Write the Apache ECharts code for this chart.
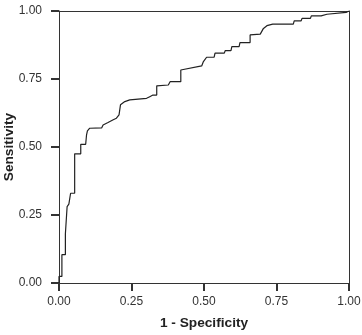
<!DOCTYPE html>
<html lang="en">
<head>
    <meta charset="UTF-8">
    <title>ROC</title>
    <script src="https://cdn.jsdelivr.net/npm/echarts@6/dist/echarts.min.js"></script>
    <style>
        body { margin: 0; background: #fff; }
        #main { width: 362px; height: 335px; }
    </style>
</head>
<body>
<div id="main"></div>
<script>
    // ROC curve vertices
    var fpr = [0, 0, 0.010, 0.010, 0.022, 0.022, 0.028, 0.028, 0.034, 0.040, 0.040, 0.054, 0.054, 0.075, 0.075, 0.092,
        0.095, 0.098, 0.106, 0.147, 0.152, 0.169, 0.187, 0.198, 0.207, 0.212, 0.212, 0.227, 0.244, 0.302, 0.313,
        0.324, 0.337, 0.337, 0.377, 0.383, 0.420, 0.420, 0.492, 0.498, 0.509, 0.535, 0.538, 0.570, 0.573, 0.593,
        0.596, 0.621, 0.624, 0.659, 0.659, 0.694, 0.699, 0.705, 0.717, 0.737, 0.808, 0.811, 0.835, 0.838, 0.867,
        0.870, 0.904, 0.907, 0.924, 0.926, 0.990, 0.993, 1];
    var tpr = [0, 0.024, 0.024, 0.104, 0.104, 0.180, 0.180, 0.281, 0.290, 0.290, 0.330, 0.330, 0.475, 0.475, 0.510, 0.510,
        0.545, 0.559, 0.569, 0.570, 0.581, 0.590, 0.600, 0.606, 0.618, 0.618, 0.655, 0.667, 0.673, 0.679, 0.685,
        0.691, 0.691, 0.725, 0.728, 0.740, 0.740, 0.783, 0.798, 0.814, 0.830, 0.830, 0.845, 0.845, 0.854, 0.854,
        0.869, 0.869, 0.884, 0.884, 0.912, 0.915, 0.920, 0.936, 0.946, 0.952, 0.952, 0.964, 0.964, 0.973, 0.973,
        0.982, 0.982, 0.988, 0.988, 0.995, 0.995, 1.0, 1];
    var ticks = [0, 0.25, 0.5, 0.75, 1];

    var points = [];
    for (var i = 0; i < fpr.length; i++) {
        points.push([fpr[i], tpr[i]]);
    }

    // axis carrying labels, ticks and title
    function makeAxis(name, gap, labelMargin) {
        return {
            type: 'value',
            min: ticks[0],
            max: ticks[ticks.length - 1],
            interval: ticks[1] - ticks[0],
            name: name,
            nameLocation: 'middle',
            nameGap: gap,
            nameMoveOverlap: false,
            nameTextStyle: { color: '#222', fontSize: 13.7, fontWeight: 'bold', fontFamily: 'Liberation Sans' },
            axisLine: { show: true, lineStyle: { color: '#333', width: 1 } },
            axisTick: { show: true, length: 8, lineStyle: { color: '#333', width: 2 } },
            splitLine: { show: false },
            axisLabel: {
                margin: labelMargin,
                color: '#333', fontSize: 12, fontFamily: 'Liberation Sans',
                formatter: function (v) { return v.toFixed(2); }
            }
        };
    }

    // top and right edges of the frame
    function frameAxis(pos) {
        return {
            type: 'value', position: pos, min: 0, max: 1,
            axisLine: { show: true, onZero: false, lineStyle: { color: '#333', width: 1 } },
            axisTick: { show: false }, axisLabel: { show: false }, splitLine: { show: false }
        };
    }

    var myChart = echarts.init(document.getElementById('main'), null, { renderer: 'canvas' });
    var option = {
        animation: false,
        grid: {
            left: 59, right: 13, top: 11, bottom: 52,
            outerBoundsMode: 'none'
        },
        xAxis: [makeAxis('1 - Specificity', 33, 13), frameAxis('top')],
        yAxis: [makeAxis('Sensitivity', 43, 17), frameAxis('right')],
        series: [{
            type: 'line',
            data: points,
            showSymbol: false,
            lineStyle: { color: '#222', width: 1.2 }
        }]
    };
    myChart.setOption(option);
</script>
</body>
</html>
